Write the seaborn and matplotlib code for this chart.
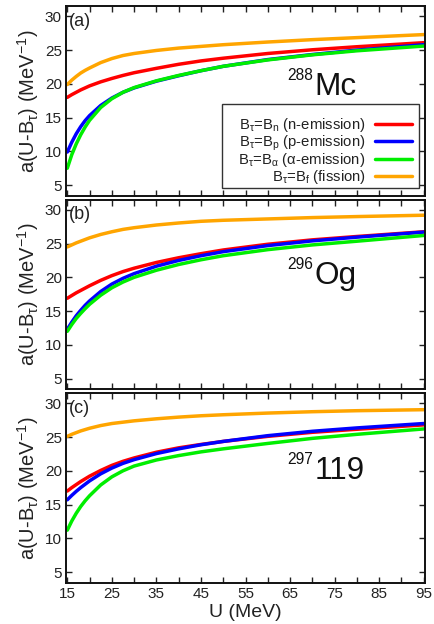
import matplotlib
matplotlib.use('Agg')
import matplotlib.pyplot as plt
import numpy as np
import pandas as pd
import seaborn as sns
from matplotlib.ticker import MultipleLocator
from matplotlib.patches import Rectangle

# ---- data ----
U = [15, 16, 17, 18, 19, 20, 22.5, 25, 27.5, 30, 35, 40, 45, 50, 60, 70, 80, 95]

# panel (a) 288Mc
mc_n = [18.0, 18.4, 18.75, 19.1, 19.4, 19.7, 20.3, 20.8, 21.25, 21.65, 22.3, 22.9, 23.4, 23.8, 24.5, 25.05, 25.5, 26.1]
mc_p = [9.9, 11.35, 12.6, 13.65, 14.55, 15.3, 16.8, 17.9, 18.75, 19.4, 20.4, 21.2, 21.95, 22.6, 23.6, 24.35, 25.0, 25.8]
mc_a = [7.5, 9.5, 11.1, 12.45, 13.6, 14.6, 16.5, 17.8, 18.75, 19.45, 20.45, 21.25, 21.95, 22.6, 23.55, 24.3, 24.9, 25.6]
mc_f = [19.9, 20.55, 21.1, 21.6, 22.0, 22.35, 23.15, 23.75, 24.2, 24.5, 24.95, 25.3, 25.55, 25.8, 26.2, 26.55, 26.85, 27.3]

# panel (b) 296Og
og_n = [16.9, 17.3, 17.7, 18.05, 18.4, 18.75, 19.55, 20.25, 20.85, 21.35, 22.2, 22.9, 23.5, 24.05, 24.9, 25.55, 26.05, 26.75]
og_p = [12.3, 13.35, 14.3, 15.1, 15.85, 16.5, 17.9, 19.0, 19.85, 20.55, 21.65, 22.5, 23.2, 23.8, 24.7, 25.4, 25.95, 26.7]
og_a = [12.0, 13.0, 13.9, 14.65, 15.35, 16.0, 17.35, 18.45, 19.3, 20.0, 21.05, 21.9, 22.6, 23.2, 24.1, 24.8, 25.35, 26.2]
og_f = [24.5, 24.8, 25.1, 25.35, 25.6, 25.85, 26.35, 26.75, 27.1, 27.35, 27.75, 28.05, 28.3, 28.45, 28.65, 28.85, 29.0, 29.2]

# panel (c) 297 119
e_n = [17.0, 17.5, 17.95, 18.4, 18.8, 19.2, 20.05, 20.8, 21.4, 21.9, 22.75, 23.4, 23.9, 24.35, 25.1, 25.7, 26.15, 26.8]
e_p = [15.7, 16.35, 16.95, 17.5, 18.0, 18.5, 19.55, 20.4, 21.1, 21.65, 22.55, 23.25, 23.85, 24.35, 25.2, 25.85, 26.35, 27.0]
e_a = [11.2, 12.55, 13.7, 14.7, 15.55, 16.3, 17.9, 19.1, 20.0, 20.7, 21.6, 22.25, 22.8, 23.25, 24.05, 24.8, 25.4, 26.2]
e_f = [25.1, 25.4, 25.65, 25.9, 26.1, 26.3, 26.7, 27.0, 27.2, 27.4, 27.7, 27.95, 28.15, 28.3, 28.55, 28.75, 28.9, 29.05]

labels = ['B$_\\tau$=B$_n$ (n-emission)', 'B$_\\tau$=B$_p$ (p-emission)',
          'B$_\\tau$=B$_\\alpha$ (α-emission)', 'B$_\\tau$=B$_f$ (fission)']
colors = ['#ff0000', '#0000ff', '#00ee00', '#ffa500']
panel_tags = ['(a)', '(b)', '(c)']
nuclei_mass = ['288', '296', '297']
nuclei_sym = ['Mc', 'Og', '119']
nuclei_base = [18.4, 19.05, 18.8]
panels = [[mc_n, mc_p, mc_a, mc_f], [og_n, og_p, og_a, og_f], [e_n, e_p, e_a, e_f]]

# ---- style ----
sns.set_theme(style='ticks')
plt.rcParams['font.family'] = ['Liberation Sans', 'DejaVu Sans']
plt.rcParams['mathtext.fontset'] = 'custom'
plt.rcParams['mathtext.rm'] = 'Liberation Sans'
plt.rcParams['mathtext.it'] = 'Liberation Sans'
plt.rcParams['mathtext.sf'] = 'Liberation Sans'
plt.rcParams['mathtext.bf'] = 'Liberation Sans:bold'

txt = '#222222'
fig, axes = plt.subplots(3, 1, figsize=(4.34, 6.24), dpi=100, sharex=True)
fig.subplots_adjust(left=0.152, right=0.979, top=0.990, bottom=0.066, hspace=0.02)

palette = dict(zip(labels, colors))
for i, ax in enumerate(axes):
    rows = []
    for lab, vals in zip(labels, panels[i]):
        for u, v in zip(U, vals):
            rows.append({'U': u, 'a': v, 'series': lab})
    df = pd.DataFrame(rows)
    sns.lineplot(data=df, x='U', y='a', hue='series', hue_order=labels,
                 palette=palette, linewidth=2.5, estimator=None, ax=ax,
                 legend=(i == 0))
    ax.set_xlim(14.7, 95.25)
    ax.set_ylim(3.4, 31.5)
    ax.set_xticks(np.arange(15, 96, 10))
    ax.xaxis.set_minor_locator(MultipleLocator(5))
    ax.yaxis.set_major_locator(MultipleLocator(5))
    ax.tick_params(axis='both', which='both', direction='in', top=True, right=True,
                   width=1.0, color='#222222', labelsize=11, labelcolor=txt, pad=3)
    ax.tick_params(axis='both', which='major', length=4.5)
    ax.tick_params(axis='x', which='minor', length=4.5)
    for s in ax.spines.values():
        s.set_linewidth(1.4)
        s.set_color('#111111')
    ax.set_ylabel('a(U-B$_\\tau$) (MeV$^{-1}$)', fontsize=14.5, color=txt, labelpad=3)
    ax.set_xlabel('')
    ax.text(0.008, 0.965, panel_tags[i], transform=ax.transAxes, ha='left', va='top',
            fontsize=13, color=txt)
    ax.text(70.4, nuclei_base[i], nuclei_sym[i], ha='left', va='baseline',
            fontsize=22.7, color='#111111')
    ax.annotate(nuclei_mass[i], xy=(70.4, nuclei_base[i]), xytext=(-0.5, 10.8),
                textcoords='offset points', ha='right', va='baseline',
                fontsize=11.2, color='#111111')
    if i == 0:
        h, l = ax.get_legend_handles_labels()
        ax.legend(h, l, loc='lower right', bbox_to_anchor=(0.963, 0.05), borderaxespad=0,
                  markerfirst=False, fontsize=10.7, frameon=False,
                  handlelength=2.45, handletextpad=0.65,
                  labelspacing=-0.07, borderpad=0.0, labelcolor=txt)
        ax.add_patch(Rectangle((0.434, 0.042), 0.983 - 0.434, 0.485 - 0.042,
                               transform=ax.transAxes, fill=False,
                               edgecolor='#333333', linewidth=1.0, zorder=5))
    if i < 2:
        ax.tick_params(axis='x', labelbottom=False)

axes[2].set_xlabel('U (MeV)', fontsize=14, color=txt, labelpad=2)

fig.savefig('out.png', dpi=100)
